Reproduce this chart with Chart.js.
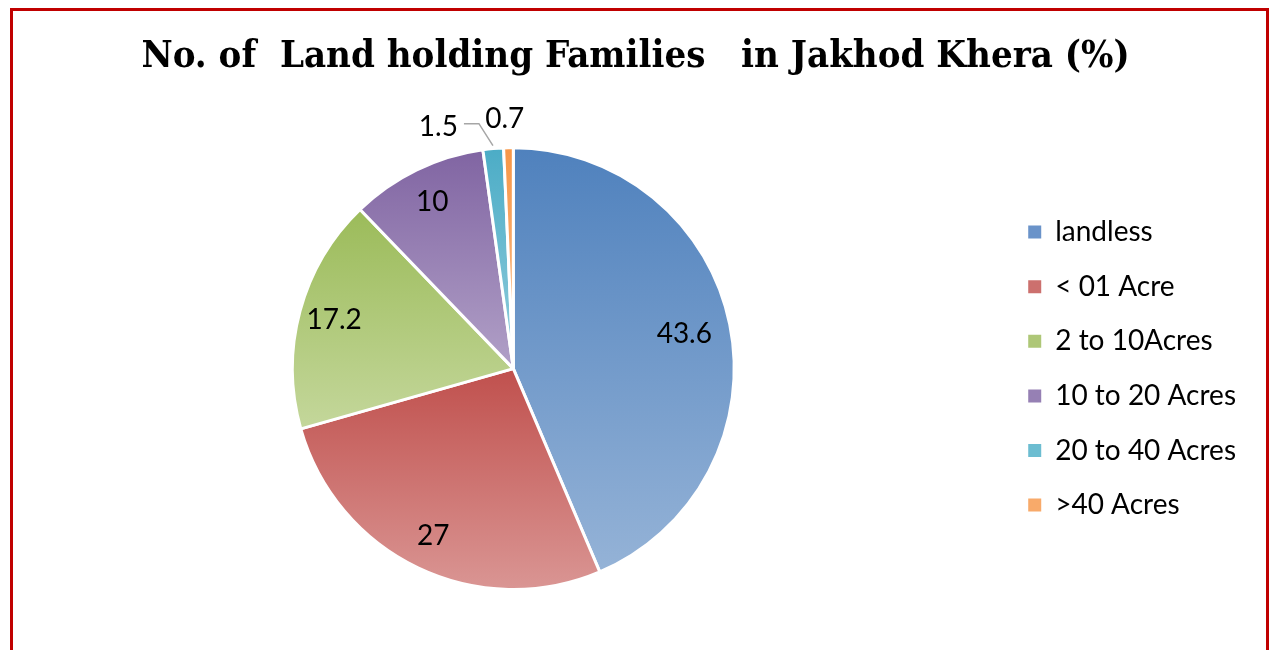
<!DOCTYPE html>
<html>
<head>
<meta charset="utf-8">
<script src="https://cdn.jsdelivr.net/npm/chart.js@4/dist/chart.umd.min.js"></script>
<style>
  body { margin: 0; background: #fff; overflow: hidden; }
  #box { position: absolute; left: 10px; top: 8px; width: 1253px; height: 660px; border: 3px solid #c00000; }
  #landPie { display: block; }
</style>
</head>
<body>
<div id="box"><canvas id="landPie" width="1253" height="660"></canvas></div>
<script>
const categorias = ["landless", "< 01 Acre", "2 to 10Acres", "10 to 20 Acres", "20 to 40 Acres", ">40 Acres"];
const porcentajes = [43.6, 27, 17.2, 10, 1.5, 0.7];
const coloresTop = ["#4f81bd", "#c0504d", "#9bbb59", "#8064a2", "#4bacc6", "#f79646"];
const coloresBottom = ["#95b3d7", "#da9694", "#c4d79b", "#b1a0c7", "#92cddc", "#fabf8f"];
const coloresLegend = ["#6a93c9", "#cc706e", "#aec777", "#9680b4", "#6cbdd1", "#f8aa6a"];

// vertical gradient per slice, from the top of the slice to its bottom
function gradienteSlice(ctx) {
  const chart = ctx.chart;
  const area = chart.chartArea;
  const i = ctx.dataIndex;
  if (!area) return coloresTop[i];
  const cx = (area.left + area.right) / 2;
  const cy = (area.top + area.bottom) / 2;
  const r = Math.min(area.width, area.height) / 2;
  const total = porcentajes.reduce((a, b) => a + b, 0);
  const antes = porcentajes.slice(0, i).reduce((a, b) => a + b, 0);
  const a0 = -Math.PI / 2 + antes / total * Math.PI * 2;
  const a1 = a0 + porcentajes[i] / total * Math.PI * 2;
  let ys = [cy, cy + r * Math.sin(a0), cy + r * Math.sin(a1)];
  [-Math.PI / 2, Math.PI / 2, Math.PI * 1.5].forEach(a => {
    if (a > a0 && a < a1) ys.push(cy + r * Math.sin(a));
  });
  const g = chart.ctx.createLinearGradient(0, Math.min(...ys), 0, Math.max(...ys));
  g.addColorStop(0, coloresTop[i]);
  g.addColorStop(1, coloresBottom[i]);
  return g;
}

const etiquetas = {
  id: 'etiquetas',
  afterDatasetsDraw(chart) {
    const c = chart.ctx;
    const meta = chart.getDatasetMeta(0);
    c.save();
    c.font = '28px Lato';
    c.fillStyle = '#000';
    c.textBaseline = 'middle';
    meta.data.forEach((arc, i) => {
      const p = arc.getProps(['x', 'y', 'startAngle', 'endAngle', 'outerRadius']);
      const mid = (p.startAngle + p.endAngle) / 2;
      const r = p.outerRadius;
      const txt = String(porcentajes[i]);
      if (i < 4) {
        const f = i === 0 ? 0.79 : 0.84;
        c.textAlign = 'center';
        c.fillText(txt, p.x + Math.cos(mid) * r * f, p.y + Math.sin(mid) * r * f);
      } else if (i === 4) {
        const sx = p.x + Math.cos(mid) * (r + 3);
        const sy = p.y + Math.sin(mid) * (r + 3);
        const ex = sx - 14, ey = p.y - r - 24;
        c.strokeStyle = '#a6a6a6';
        c.lineWidth = 1.5;
        c.beginPath();
        c.moveTo(sx, sy);
        c.lineTo(ex, ey);
        c.lineTo(ex - 15, ey);
        c.stroke();
        c.textAlign = 'right';
        c.fillText(txt, ex - 21, ey + 3);
      } else {
        c.textAlign = 'center';
        c.fillText(txt, p.x + Math.cos(mid) * (r + 29) - 3, p.y + Math.sin(mid) * (r + 29));
      }
    });
    c.restore();
  }
};

window.myChart = new Chart(document.getElementById("landPie"), {
  type: 'pie',
  data: {
    labels: categorias,
    datasets: [{
      data: porcentajes,
      backgroundColor: gradienteSlice,
      borderColor: '#ffffff',
      borderWidth: 3
    }]
  },
  options: {
    responsive: false,
    animation: false,
    layout: { padding: { left: 12, right: 20, top: 0, bottom: 80 } },
    plugins: {
      title: {
        display: true,
        text: 'No. of  Land holding Families   in Jakhod Khera (%)',
        color: '#000',
        font: { family: "'DejaVu Serif Condensed', 'Liberation Serif'", size: 38, weight: 'bold' },
        padding: { top: 23, bottom: 66.6 }
      },
      legend: {
        position: 'right',
        title: { display: true, text: ' ', color: '#fff', font: { size: 1 }, padding: { top: 134, bottom: 0 } },
        labels: {
          color: '#000',
          font: { family: 'Lato', size: 28 },
          boxWidth: 13,
          boxHeight: 13,
          padding: 26.6,
          generateLabels: chart => categorias.map((t, i) => ({
            text: t,
            fillStyle: coloresLegend[i],
            strokeStyle: coloresLegend[i],
            fontColor: '#000',
            lineWidth: 0,
            index: i
          }))
        }
      },
      tooltip: { enabled: false }
    }
  },
  plugins: [etiquetas]
});
</script>
</body>
</html>
